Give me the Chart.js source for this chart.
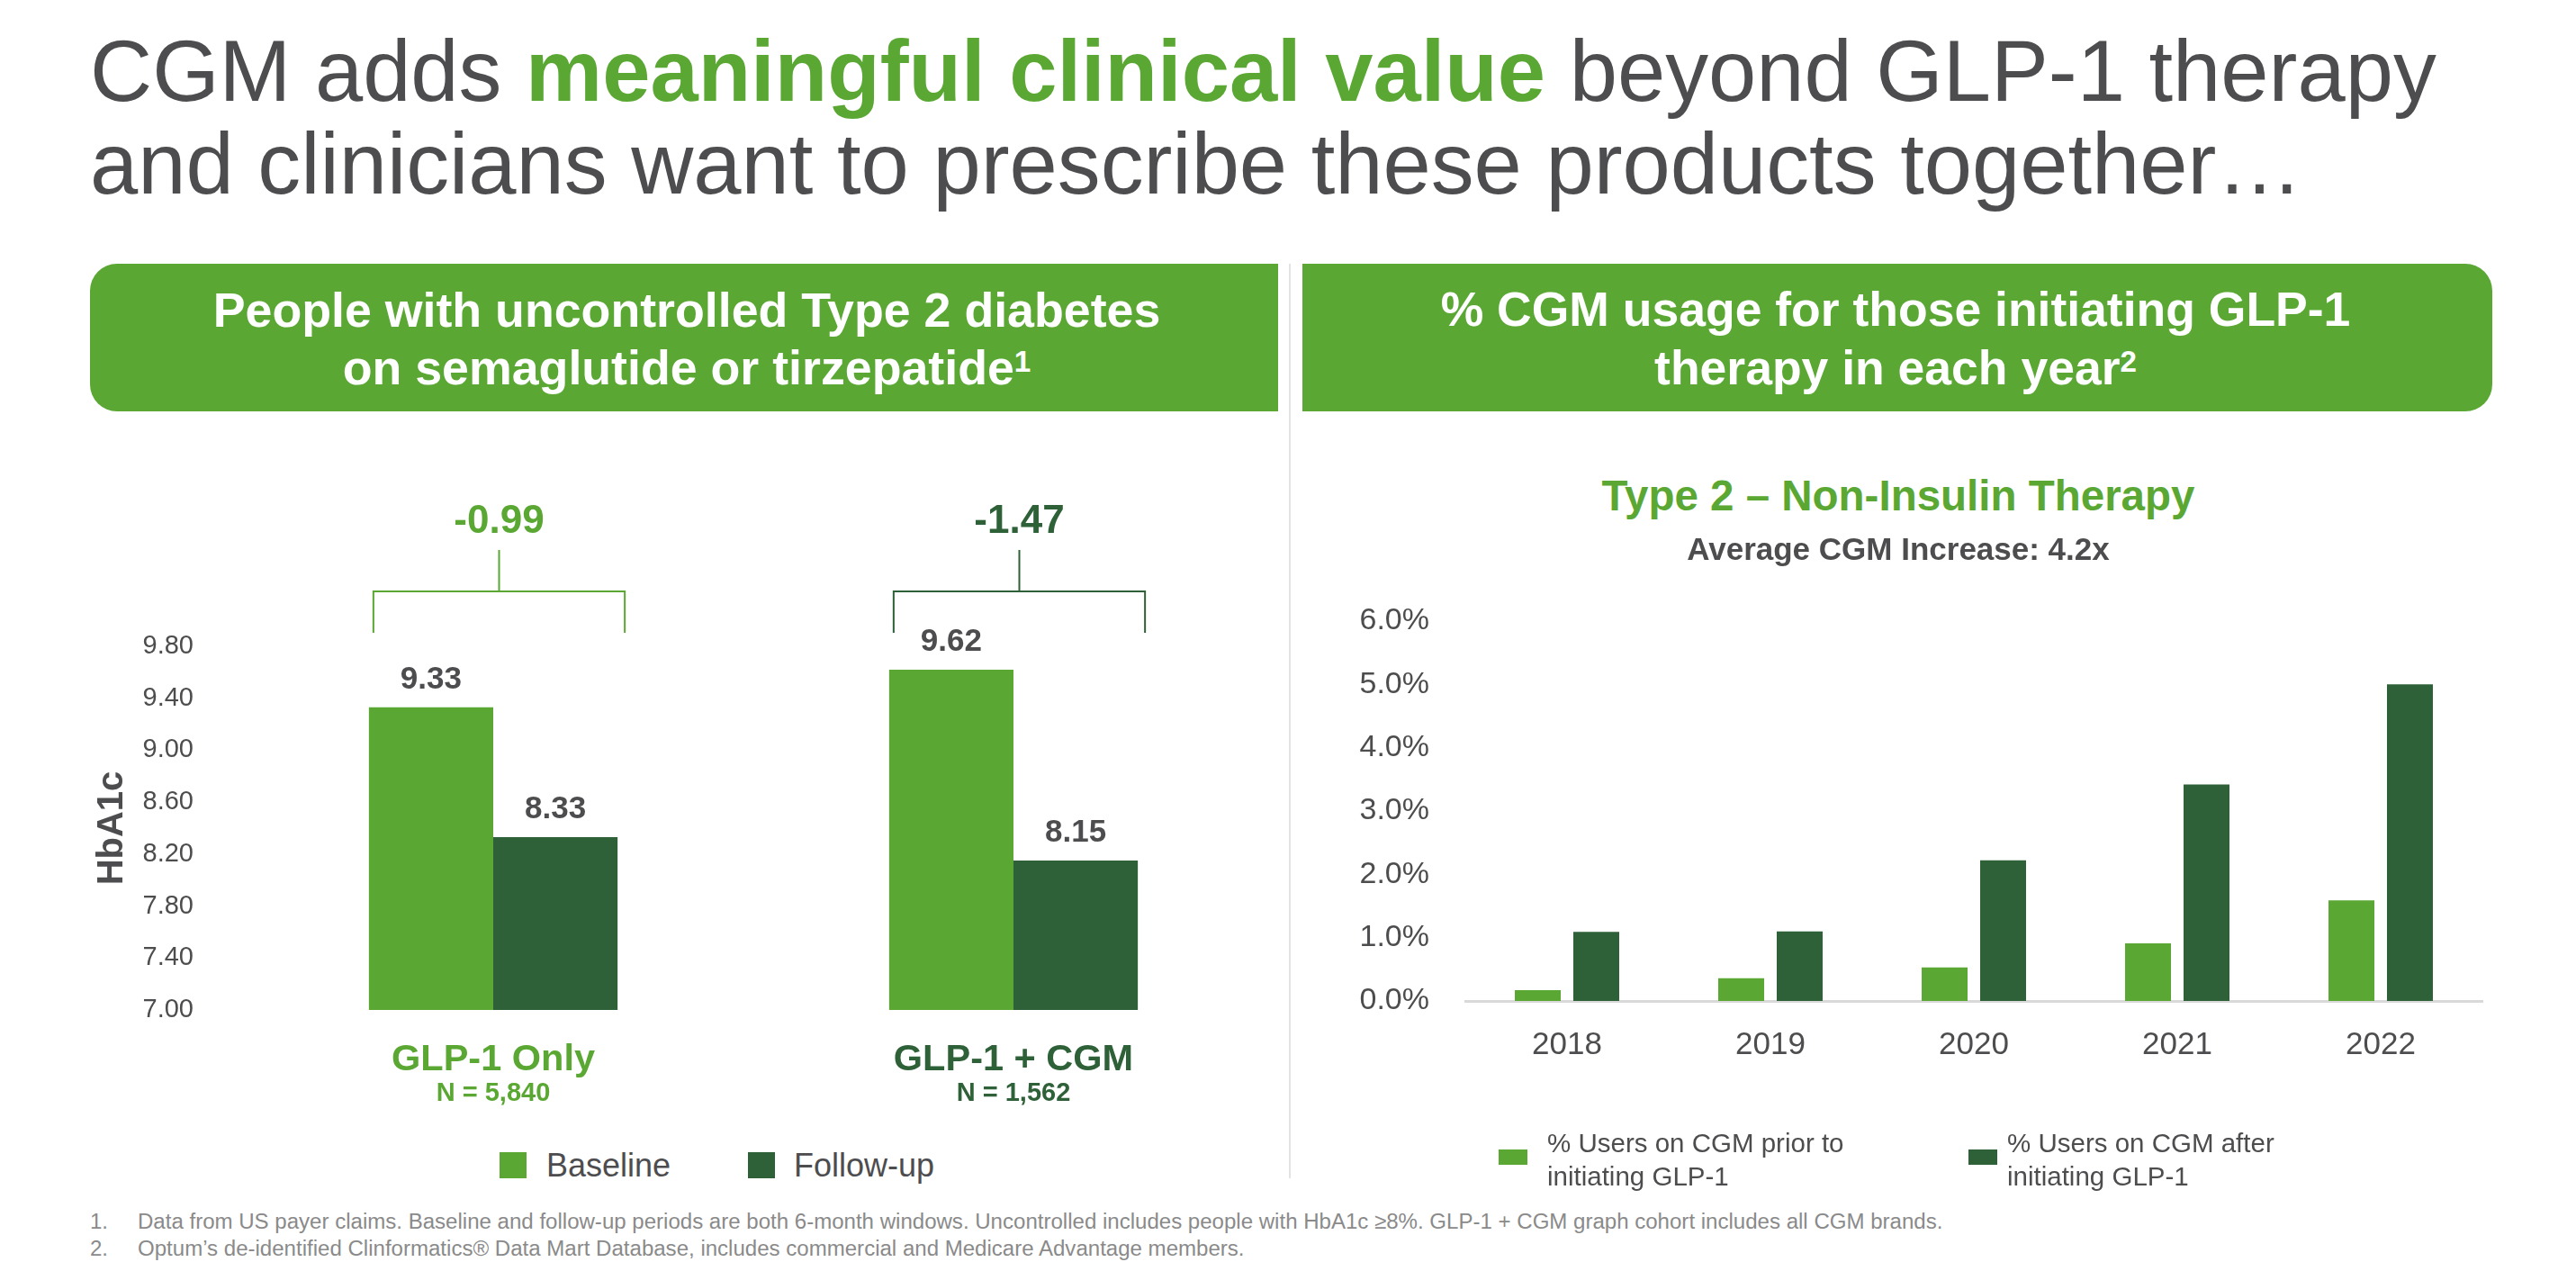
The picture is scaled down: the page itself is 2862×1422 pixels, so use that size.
<!DOCTYPE html>
<html><head><meta charset="utf-8">
<script src="https://cdn.jsdelivr.net/npm/chart.js@4.4.1/dist/chart.umd.min.js"></script>
<style>
html,body{margin:0;padding:0;background:#fff;}
body{width:2862px;height:1422px;position:relative;overflow:hidden;font-family:"Liberation Sans",Arial,Helvetica,sans-serif;}
.t{position:absolute;white-space:nowrap;line-height:1;}
.box{position:absolute;background:#5aa833;}
.sup{position:relative;top:-0.42em;font-size:0.62em;line-height:0;}
.sw{position:absolute;}
</style></head>
<body>
<div class="box" style="left:100px;top:293px;width:1320px;height:164px;border-radius:30px 0 0 30px;"></div>
<div class="box" style="left:1447px;top:293px;width:1322px;height:164px;border-radius:0 30px 30px 0;"></div>
<div style="position:absolute;left:1432px;top:293px;width:2px;height:1016px;background:#e3e3e3;"></div>
<div style="position:absolute;left:60px;top:520px;width:1380px;height:740px;"><canvas id="hb" width="1380" height="740" style="width:1380px;height:740px;"></canvas></div>
<div style="position:absolute;left:1440px;top:600px;width:1400px;height:660px;"><canvas id="cgm" width="1400" height="660" style="width:1400px;height:660px;"></canvas></div>
<script>
// ---------- DATA ----------
const hbCategories = ['GLP-1 Only', 'GLP-1 + CGM'];
const hbN = ['N = 5,840', 'N = 1,562'];
const hbBaseline = [9.33, 9.62];
const hbFollowUp = [8.33, 8.15];
const hbDelta = ['-0.99', '-1.47'];
const hbSeriesNames = ['Baseline', 'Follow-up'];
const hbMin = 7.0, hbMax = 9.8, hbStep = 0.4;

const years = ['2018', '2019', '2020', '2021', '2022'];
const cgmPrior = [0.17, 0.36, 0.53, 0.91, 1.59];
const cgmAfter = [1.09, 1.10, 2.22, 3.42, 5.00];
const cgmSeriesNames = [['% Users on CGM prior to', 'initiating GLP-1'], ['% Users on CGM after', 'initiating GLP-1']];
const cgmMin = 0, cgmMax = 6, cgmStep = 1;

const footnotes = [
  'Data from US payer claims. Baseline and follow-up periods are both 6-month windows. Uncontrolled includes people with HbA1c \u22658%. GLP-1 + CGM graph cohort includes all CGM brands.',
  'Optum\u2019s de-identified Clinformatics\u00ae Data Mart Database, includes commercial and Medicare Advantage members.'
];

// ---------- STYLE ----------
const LIGHT = '#5aa833', DARK = '#2e6138', GRAY = '#4d4d4f', NOTE = '#8a8a8a';
const FAM = '"Liberation Sans", Arial, Helvetica, sans-serif';
const catColors = [LIGHT, DARK];

function addText(html, o) {
  const d = document.createElement('div');
  d.className = 't'; d.innerHTML = html;
  d.style.fontSize = o.size + 'px';
  d.style.fontWeight = o.weight || 'normal';
  d.style.color = o.color;
  document.body.appendChild(d);
  let size = o.size;
  if (o.fit) {
    const w0 = d.getBoundingClientRect().width;
    size = o.size * o.fit / w0;
    d.style.fontSize = size + 'px';
  }
  const w = d.getBoundingClientRect().width;
  d.style.left = (o.align === 'center' ? o.x - w / 2 : o.x) + 'px';
  d.style.top = (o.baseline - 0.8465 * size) + 'px';
  return size;
}
function addBox(x, y, w, h, c) {
  const d = document.createElement('div');
  d.className = 'sw';
  Object.assign(d.style, {left: x + 'px', top: y + 'px', width: w + 'px', height: h + 'px', background: c});
  document.body.appendChild(d);
}

// Title
const ts = addText('CGM adds <b style="color:' + LIGHT + '">meaningful clinical value</b> beyond GLP-1 therapy',
  {x: 100, baseline: 112, size: 96, color: GRAY, fit: 2607});
addText('and clinicians want to prescribe these products together\u2026', {x: 100, baseline: 215, size: ts, color: GRAY});

// Header boxes text
const hs1 = addText('People with uncontrolled Type 2 diabetes', {x: 763, baseline: 363, size: 52, weight: 'bold', color: '#fff', align: 'center', fit: 1053});
addText('on semaglutide or tirzepatide<span class="sup">1</span>', {x: 763, baseline: 427, size: hs1, weight: 'bold', color: '#fff', align: 'center'});
const hs2 = addText('% CGM usage for those initiating GLP-1', {x: 2106, baseline: 362, size: 52, weight: 'bold', color: '#fff', align: 'center', fit: 1011});
addText('therapy in each year<span class="sup">2</span>', {x: 2106, baseline: 427, size: hs2, weight: 'bold', color: '#fff', align: 'center'});

// Right subtitles
addText('Type 2 \u2013 Non-Insulin Therapy', {x: 2109, baseline: 567, size: 47.5, weight: 'bold', color: LIGHT, align: 'center'});
addText('Average CGM Increase: 4.2x', {x: 2109, baseline: 622, size: 35, weight: 'bold', color: GRAY, align: 'center'});

// Left legend
addBox(555, 1280, 30, 29, LIGHT);
addText(hbSeriesNames[0], {x: 607, baseline: 1307, size: 36, color: GRAY});
addBox(831, 1280, 30, 29, DARK);
addText(hbSeriesNames[1], {x: 882, baseline: 1307, size: 36, color: GRAY});

// Right legend
addBox(1665, 1277, 32, 17, LIGHT);
addText(cgmSeriesNames[0][0], {x: 1719, baseline: 1280, size: 29.5, color: GRAY});
addText(cgmSeriesNames[0][1], {x: 1719, baseline: 1317, size: 29.5, color: GRAY});
addBox(2187, 1277, 32, 17, DARK);
addText(cgmSeriesNames[1][0], {x: 2230, baseline: 1280, size: 29.5, color: GRAY});
addText(cgmSeriesNames[1][1], {x: 2230, baseline: 1317, size: 29.5, color: GRAY});

// Footnotes
const fs = addText(footnotes[0], {x: 153, baseline: 1365, size: 21, color: NOTE, fit: 2006});
addText('1.', {x: 100, baseline: 1365, size: fs, color: NOTE});
addText('2.', {x: 100, baseline: 1395, size: fs, color: NOTE});
addText(footnotes[1], {x: 153, baseline: 1395, size: fs, color: NOTE});

// ---------- CHARTS ----------
Chart.defaults.font.family = FAM;
Chart.defaults.color = GRAY;

const hbPlugin = {
  id: 'hbAnno',
  afterDatasetsDraw(chart) {
    const {ctx, chartArea} = chart;
    const m0 = chart.getDatasetMeta(0).data, m1 = chart.getDatasetMeta(1).data;
    ctx.save();
    ctx.textAlign = 'center'; ctx.textBaseline = 'alphabetic';
    [m0, m1].forEach((meta, di) => meta.forEach((bar, i) => {
      const v = chart.data.datasets[di].data[i];
      ctx.font = 'bold 35px ' + FAM;
      ctx.fillStyle = GRAY;
      ctx.fillText(v.toFixed(2), bar.x, bar.y - 21);
    }));
    const top = chartArea.top;
    m0.forEach((b0, i) => {
      const b1 = m1[i];
      const l = b0.x - b0.width / 2 + 5, r = b1.x + b1.width / 2 + 8, c = (l + r) / 2;
      ctx.strokeStyle = catColors[i]; ctx.lineWidth = 2;
      ctx.beginPath();
      ctx.moveTo(l, top - 15); ctx.lineTo(l, top - 61); ctx.lineTo(r, top - 61); ctx.lineTo(r, top - 15);
      ctx.moveTo(c, top - 61); ctx.lineTo(c, top - 107);
      ctx.stroke();
      ctx.fillStyle = catColors[i];
      ctx.font = 'bold 44px ' + FAM;
      ctx.fillText(hbDelta[i], c, top - 126);
      ctx.font = 'bold 29px ' + FAM;
      ctx.fillText(hbN[i], chart.scales.x.getPixelForValue(i), chartArea.bottom + 101);
    });
    ctx.restore();
  }
};

new Chart(document.getElementById('hb'), {
  type: 'bar',
  data: {
    labels: hbCategories,
    datasets: [
      {label: hbSeriesNames[0], data: hbBaseline, backgroundColor: LIGHT, categoryPercentage: 0.478, barPercentage: 1.0},
      {label: hbSeriesNames[1], data: hbFollowUp, backgroundColor: DARK, categoryPercentage: 0.478, barPercentage: 1.0}
    ]
  },
  options: {
    responsive: false, animation: false, devicePixelRatio: 1,
    layout: {padding: {top: 198, right: 25, left: 0, bottom: 0}},
    plugins: {legend: {display: false}, tooltip: {enabled: false}},
    scales: {
      x: {
        grid: {display: false}, border: {display: false},
        ticks: {font: {size: 41.5, weight: 'bold'}, color: (c) => catColors[c.index], padding: 23},
        afterFit: (s) => { s.height = 138; }
      },
      y: {
        min: hbMin, max: hbMax,
        grid: {display: false}, border: {display: false},
        ticks: {stepSize: hbStep, font: {size: 29}, color: GRAY, padding: 36, callback: (v) => Number(v).toFixed(2)},
        title: {display: true, text: 'HbA1c', font: {size: 40, weight: 'bold'}, color: GRAY, padding: {top: 41, bottom: 0}},
        afterFit: (s) => { s.width = 199; }
      }
    }
  },
  plugins: [hbPlugin]
});

new Chart(document.getElementById('cgm'), {
  type: 'bar',
  data: {
    labels: years,
    datasets: [
      {label: cgmSeriesNames[0].join(' '), data: cgmPrior, backgroundColor: LIGHT, categoryPercentage: 0.575, barPercentage: 0.785},
      {label: cgmSeriesNames[1].join(' '), data: cgmAfter, backgroundColor: DARK, categoryPercentage: 0.575, barPercentage: 0.785}
    ]
  },
  options: {
    responsive: false, animation: false, devicePixelRatio: 1,
    layout: {padding: {top: 90, right: 82, left: 0, bottom: 0}},
    plugins: {legend: {display: false}, tooltip: {enabled: false}},
    scales: {
      x: {
        grid: {display: false},
        border: {display: true, color: '#d9d9d9', width: 3},
        ticks: {font: {size: 35}, color: GRAY, padding: 20},
        afterFit: (s) => { s.height = 148; }
      },
      y: {
        min: cgmMin, max: cgmMax,
        grid: {display: false}, border: {display: false},
        ticks: {stepSize: cgmStep, font: {size: 34}, color: GRAY, padding: 32, callback: (v) => Number(v).toFixed(1) + '%'},
        afterFit: (s) => { s.width = 188; }
      }
    }
  }
});
</script>
</body></html>
